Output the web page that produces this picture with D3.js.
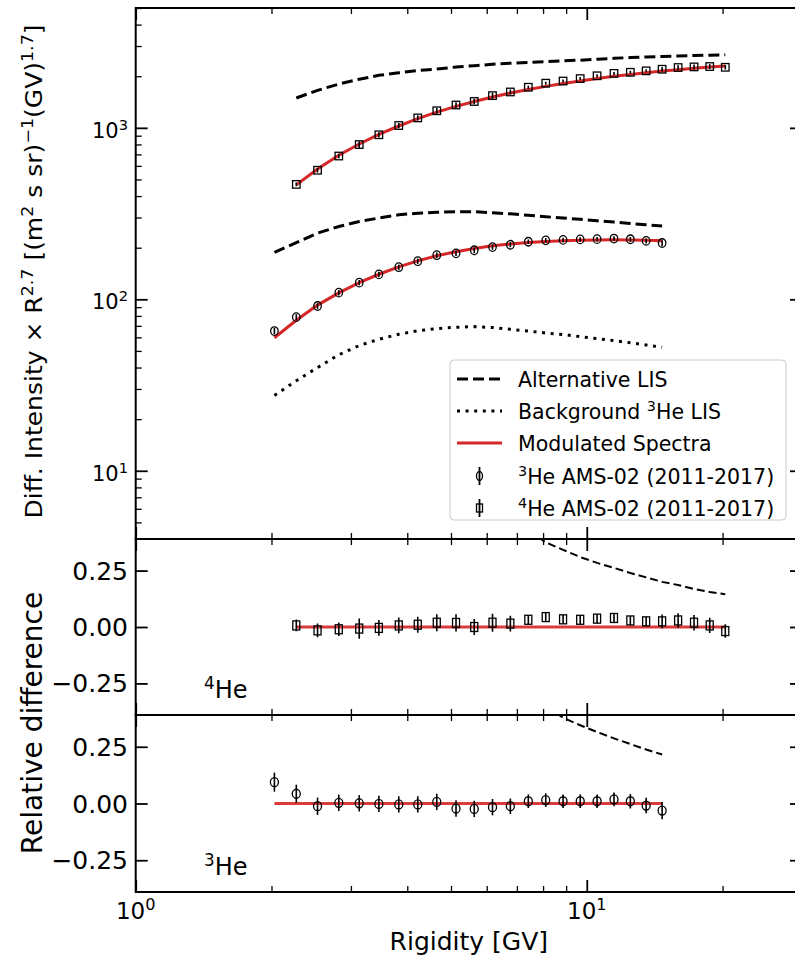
<!DOCTYPE html>
<html>
<head>
<meta charset="utf-8">
<script src="https://cdn.jsdelivr.net/npm/d3@7/dist/d3.min.js"></script>
<style>
body { margin: 0; background: #fff; }
svg { font-family: "DejaVu Sans", sans-serif; }
</style>
</head>
<body>
<div id="svg-area"></div>
<script>
// rigidity bins (GV), AMS-02 bin centres
var rig3 = [2.03, 2.27, 2.53, 2.82, 3.13, 3.46, 3.83, 4.22, 4.65, 5.13, 5.63,
            6.18, 6.77, 7.42, 8.11, 8.86, 9.67, 10.54, 11.49, 12.49, 13.54, 14.69];
var rig4 = [2.27, 2.53, 2.82, 3.13, 3.46, 3.83, 4.22, 4.65, 5.13, 5.63, 6.18, 6.77,
            7.42, 8.11, 8.86, 9.67, 10.54, 11.49, 12.49, 13.54, 14.69, 15.94, 17.29, 18.73, 20.28];

// 3He
var he3Data  = [65.3, 78.7, 91.4, 109.3, 125.1, 139.7, 153.9, 166.8, 180.8, 185.3, 193.2,
                201.7, 208, 216.6, 220.8, 222, 223.5, 224.2, 226.2, 224, 219, 213];
var he3Err   = [0.042, 0.04, 0.038, 0.036, 0.036, 0.036, 0.036, 0.036, 0.036, 0.036, 0.036,
                0.036, 0.034, 0.03, 0.03, 0.03, 0.03, 0.03, 0.03, 0.032, 0.034, 0.038];
var he3Model = [59.7, 75.5, 92.5, 109, 125, 140, 154.5, 167.5, 179.5, 189.5, 198,
                205, 210.5, 214.5, 217.5, 219.8, 221.3, 222, 222.2, 221.8, 221, 219.8];
var he3Alt   = [188, 214, 243, 266, 284, 298, 311, 318, 322, 324, 324,
                320, 315, 309, 303, 298, 293, 287, 282, 277, 272, 268];
var he3Bkg   = [27.5, 33.5, 40, 47.5, 53.7, 58.5, 62.5, 65.5, 67.5, 68.7, 69.3,
                68.5, 66.8, 65.3, 63.6, 62.3, 60.6, 59, 57.4, 55.8, 54.2, 52.5];
var he3Resid = [0.094, 0.043, -0.012, 0.003, 0.001, -0.002, -0.004, -0.004, 0.007, -0.022, -0.024,
                -0.016, -0.012, 0.010, 0.015, 0.010, 0.010, 0.010, 0.018, 0.010, -0.009, -0.031];
var he3AltRig   = [7.42, 8.11, 8.86, 9.67, 10.54, 11.49, 12.49, 13.54, 14.69];
var he3AltResid = [0.50, 0.43, 0.378, 0.345, 0.315, 0.287, 0.262, 0.238, 0.216];

// 4He
var he4Data  = [468, 566, 685, 799, 911, 1032, 1143, 1258, 1359, 1425, 1541, 1619,
                1725, 1822, 1875, 1938, 2012, 2078, 2109, 2150, 2197, 2248, 2267, 2278, 2255];
var he4Err   = [0.026, 0.03, 0.03, 0.045, 0.035, 0.035, 0.035, 0.038, 0.038, 0.036, 0.04, 0.035,
                0.02, 0.02, 0.02, 0.02, 0.02, 0.02, 0.02, 0.02, 0.03, 0.032, 0.034, 0.034, 0.03];
var he4Model = [465, 575, 692, 805, 915, 1025, 1132, 1235, 1335, 1425, 1512, 1595,
                1672, 1745, 1813, 1878, 1940, 1998, 2050, 2098, 2143, 2185, 2225, 2262, 2296];
var he4Alt   = [1493, 1655, 1800, 1921, 2025, 2094, 2157, 2204, 2263, 2304, 2348, 2382,
                2408, 2434, 2457, 2482, 2515, 2543, 2571, 2590, 2607, 2624, 2640, 2655, 2670];
var he4Resid = [0.007, -0.015, -0.010, -0.007, -0.004, 0.007, 0.010, 0.019, 0.018, 0.0, 0.019, 0.015,
                0.032, 0.044, 0.034, 0.032, 0.037, 0.040, 0.029, 0.025, 0.025, 0.029, 0.019, 0.007, -0.018];
var he4AltRig   = [7.42, 8.11, 8.86, 9.67, 10.54, 11.49, 12.49, 13.54, 14.69, 15.94, 17.29, 18.73, 20.28];
var he4AltResid = [0.43, 0.375, 0.342, 0.31, 0.284, 0.262, 0.239, 0.220, 0.200, 0.186, 0.168, 0.155, 0.145];

// ticks
var xMajor = [1, 10];
var xMinor = [2, 3, 4, 5, 6, 7, 8, 9, 20, 30];
var yTopMajor = [10, 100, 1000];
var yTopMinor = [5, 6, 7, 8, 9, 20, 30, 40, 50, 60, 70, 80, 90,
                 200, 300, 400, 500, 600, 700, 800, 900, 2000, 3000, 4000, 5000];
var residTicks = [-0.25, 0, 0.25];
var residLabels = ["\u22120.25", "0.00", "0.25"];

var legendNames = ["Alternative LIS", "Background |3|He LIS", "Modulated Spectra",
                   "|3|He AMS-02 (2011-2017)", "|4|He AMS-02 (2011-2017)"];

var red = "#d62728";
var svgWidth = 795, svgHeight = 957;
var L = 135.7, R = 802;
var topP = [8, 539], midP = [539, 715], botP = [715, 892];

var svg = d3.select("#svg-area").append("svg")
  .attr("width", svgWidth).attr("height", svgHeight);

var x = d3.scaleLog().domain([1, 30]).range([L, R]);
var yTop = d3.scaleLog().domain([4, 5000]).range([topP[1], topP[0]]);
var yMid = d3.scaleLinear().domain([-0.39, 0.39]).range([midP[1], midP[0]]);
var yBot = d3.scaleLinear().domain([-0.39, 0.39]).range([botP[1], botP[0]]);

// write text with superscripts, "|3|He" -> superscript 3
function rich(t, str, fs) {
  var parts = str.split("|");
  var up = 0;
  parts.forEach(function(p, i) {
    if (p === "") return;
    var s = t.append("tspan").text(p);
    if (i % 2 === 1) {
      s.attr("font-size", fs * 0.7).attr("dy", -fs * 0.38 - up);
      up = -fs * 0.38;
    } else {
      s.attr("dy", -up);
      up = 0;
    }
  });
}

var defs = svg.append("defs");
[["cTop", topP], ["cMid", midP], ["cBot", botP]].forEach(function(c) {
  defs.append("clipPath").attr("id", c[0]).append("rect")
    .attr("x", L).attr("y", c[1][0]).attr("width", R - L).attr("height", c[1][1] - c[1][0]);
});

function drawLine(g, xs, ys, yScale, style) {
  var line = d3.line().x(function(d, i) { return x(xs[i]); })
    .y(function(d) { return yScale(d); });
  g.append("path").datum(ys)
    .attr("d", line)
    .attr("fill", "none")
    .attr("stroke", style.color)
    .attr("stroke-width", style.width)
    .attr("stroke-dasharray", style.dash || null)
    .attr("stroke-opacity", style.opacity || 1);
}

function drawPoints(g, xs, ys, lo, hi, yScale, shape, w, h) {
  xs.forEach(function(r, i) {
    var cx = x(r), cy = yScale(ys[i]);
    g.append("line").attr("x1", cx).attr("x2", cx)
      .attr("y1", yScale(lo[i])).attr("y2", yScale(hi[i]))
      .attr("stroke", "#000").attr("stroke-width", 1.6);
    if (shape === "circle") {
      g.append("ellipse").attr("cx", cx).attr("cy", cy).attr("rx", w / 2).attr("ry", h / 2)
        .attr("fill", "none").attr("stroke", "#000").attr("stroke-width", 1.3);
    } else {
      g.append("rect").attr("x", cx - w / 2).attr("y", cy - h / 2).attr("width", w).attr("height", h)
        .attr("fill", "none").attr("stroke", "#000").attr("stroke-width", 1.3);
    }
  });
}

function axesFrame(top, bottom, yScale, yMajor, yMinor) {
  var g = svg.append("g");
  var mk = function(axis, tx, ty, vals, len) {
    g.append("g").attr("transform", "translate(" + tx + "," + ty + ")")
      .call(axis.tickValues(vals).tickSize(-len).tickFormat(""))
      .call(function(s) { s.select(".domain").remove(); })
      .selectAll("line").attr("stroke", "#000").attr("stroke-width", len > 8 ? 1.8 : 1.3);
  };
  mk(d3.axisBottom(x), 0, bottom, xMajor, 12);
  mk(d3.axisBottom(x), 0, bottom, xMinor, 6);
  mk(d3.axisTop(x), 0, top, xMajor, 12);
  mk(d3.axisTop(x), 0, top, xMinor, 6);
  mk(d3.axisLeft(yScale), L, 0, yMajor, 12);
  mk(d3.axisRight(yScale), R, 0, yMajor, 12);
  if (yMinor) {
    mk(d3.axisLeft(yScale), L, 0, yMinor, 6);
    mk(d3.axisRight(yScale), R, 0, yMinor, 6);
  }
  g.append("rect").attr("x", L).attr("y", top).attr("width", R - L).attr("height", bottom - top)
    .attr("fill", "none").attr("stroke", "#000").attr("stroke-width", 2);
}

// ---------------- top panel ----------------
var gTop = svg.append("g").attr("clip-path", "url(#cTop)");
drawLine(gTop, rig4, he4Alt, yTop, {color: "#000", width: 3, dash: "11,5"});
drawLine(gTop, rig3, he3Alt, yTop, {color: "#000", width: 3, dash: "11,5"});
drawLine(gTop, rig3, he3Bkg, yTop, {color: "#000", width: 3, dash: "3,5.6"});
drawLine(gTop, rig4, he4Model, yTop, {color: red, width: 3});
drawLine(gTop, rig3, he3Model, yTop, {color: red, width: 3});
drawPoints(gTop, rig4, he4Data,
  he4Data.map(function(d, i) { return d * (1 - he4Err[i]); }),
  he4Data.map(function(d, i) { return d * (1 + he4Err[i]); }), yTop, "square", 7.5, 7.5);
drawPoints(gTop, rig3, he3Data,
  he3Data.map(function(d, i) { return d * (1 - he3Err[i]); }),
  he3Data.map(function(d, i) { return d * (1 + he3Err[i]); }), yTop, "circle", 7.5, 8.5);
axesFrame(topP[0], topP[1], yTop, yTopMajor, yTopMinor);

yTopMajor.forEach(function(v) {
  var t = svg.append("text").attr("x", 128).attr("y", yTop(v) + 10)
    .attr("text-anchor", "end").attr("font-size", 21);
  rich(t, "10|" + Math.round(Math.log10(v)) + "|", 21);
});

var yl = svg.append("text")
  .attr("transform", "translate(42," + ((topP[0] + topP[1]) / 2 - 2) + ") rotate(-90) scale(1,0.9)")
  .attr("text-anchor", "middle").attr("font-size", 25);
rich(yl, "Diff. Intensity \u00d7 R|2.7| [(m|2| s sr)|\u22121|(GV)|1.7|]", 25);

// legend
var lg = svg.append("g");
lg.append("rect").attr("x", 450).attr("y", 360).attr("width", 336).attr("height", 160)
  .attr("rx", 4).attr("fill", "#fff").attr("fill-opacity", 0.8)
  .attr("stroke", "#cccccc").attr("stroke-width", 1);
var legY = [379, 411, 443, 476, 508];
var legStyle = [
  {color: "#000", width: 3, dash: "11,5"},
  {color: "#000", width: 3, dash: "3,5.6"},
  {color: red, width: 3}
];
legStyle.forEach(function(s, i) {
  lg.append("line").attr("x1", 457).attr("x2", 502).attr("y1", legY[i]).attr("y2", legY[i])
    .attr("stroke", s.color).attr("stroke-width", s.width).attr("stroke-dasharray", s.dash || null);
});
[3, 4].forEach(function(k, j) {
  var cy = legY[3 + j];
  lg.append("line").attr("x1", 479.5).attr("x2", 479.5).attr("y1", cy - 9).attr("y2", cy + 9)
    .attr("stroke", "#000").attr("stroke-width", 1.8);
  if (j === 0) {
    lg.append("ellipse").attr("cx", 479.5).attr("cy", cy).attr("rx", 3).attr("ry", 4.5)
      .attr("fill", "none").attr("stroke", "#000").attr("stroke-width", 1.3);
  } else {
    lg.append("rect").attr("x", 476.5).attr("y", cy - 4).attr("width", 6).attr("height", 8)
      .attr("fill", "none").attr("stroke", "#000").attr("stroke-width", 1.3);
  }
});
legendNames.forEach(function(n, i) {
  var t = lg.append("text").attr("x", 518).attr("y", legY[i] + 7.5).attr("font-size", 20.5);
  rich(t, n, 20.5);
});

// ---------------- residual panels ----------------
var gMid = svg.append("g").attr("clip-path", "url(#cMid)");
drawLine(gMid, he4AltRig, he4AltResid, yMid, {color: "#000", width: 2, dash: "8,4"});
drawLine(gMid, rig4, rig4.map(function() { return 0; }), yMid, {color: red, width: 3, opacity: 0.9});
drawPoints(gMid, rig4, he4Resid,
  he4Resid.map(function(d, i) { return d - he4Err[i]; }),
  he4Resid.map(function(d, i) { return d + he4Err[i]; }), yMid, "square", 7, 9);
axesFrame(midP[0], midP[1], yMid, residTicks, null);

var gBot = svg.append("g").attr("clip-path", "url(#cBot)");
drawLine(gBot, he3AltRig, he3AltResid, yBot, {color: "#000", width: 2, dash: "8,4"});
drawLine(gBot, rig3, rig3.map(function() { return 0; }), yBot, {color: red, width: 3, opacity: 0.9});
drawPoints(gBot, rig3, he3Resid,
  he3Resid.map(function(d, i) { return d - he3Err[i]; }),
  he3Resid.map(function(d, i) { return d + he3Err[i]; }), yBot, "circle", 8, 9);
axesFrame(botP[0], botP[1], yBot, residTicks, null);

[yMid, yBot].forEach(function(ys) {
  residTicks.forEach(function(v, i) {
    svg.append("text").attr("x", 128).attr("y", ys(v) + 9)
      .attr("text-anchor", "end").attr("font-size", 25).text(residLabels[i]);
  });
});

var t4 = svg.append("text").attr("x", 204).attr("y", 698).attr("font-size", 24);
rich(t4, "|4|He", 24);
var t3 = svg.append("text").attr("x", 204).attr("y", 875).attr("font-size", 24);
rich(t3, "|3|He", 24);

svg.append("text")
  .attr("transform", "translate(42," + (midP[1] + 8) + ") rotate(-90)")
  .attr("text-anchor", "middle").attr("font-size", 28).text("Relative difference");

// x tick labels and label
xMajor.forEach(function(v) {
  var t = svg.append("text").attr("x", x(v)).attr("y", 919)
    .attr("text-anchor", "middle").attr("font-size", 23);
  rich(t, "10|" + Math.round(Math.log10(v)) + "|", 23);
});
svg.append("text").attr("x", (L + R) / 2).attr("y", 950)
  .attr("text-anchor", "middle").attr("font-size", 25).text("Rigidity [GV]");
</script>
</body>
</html>
